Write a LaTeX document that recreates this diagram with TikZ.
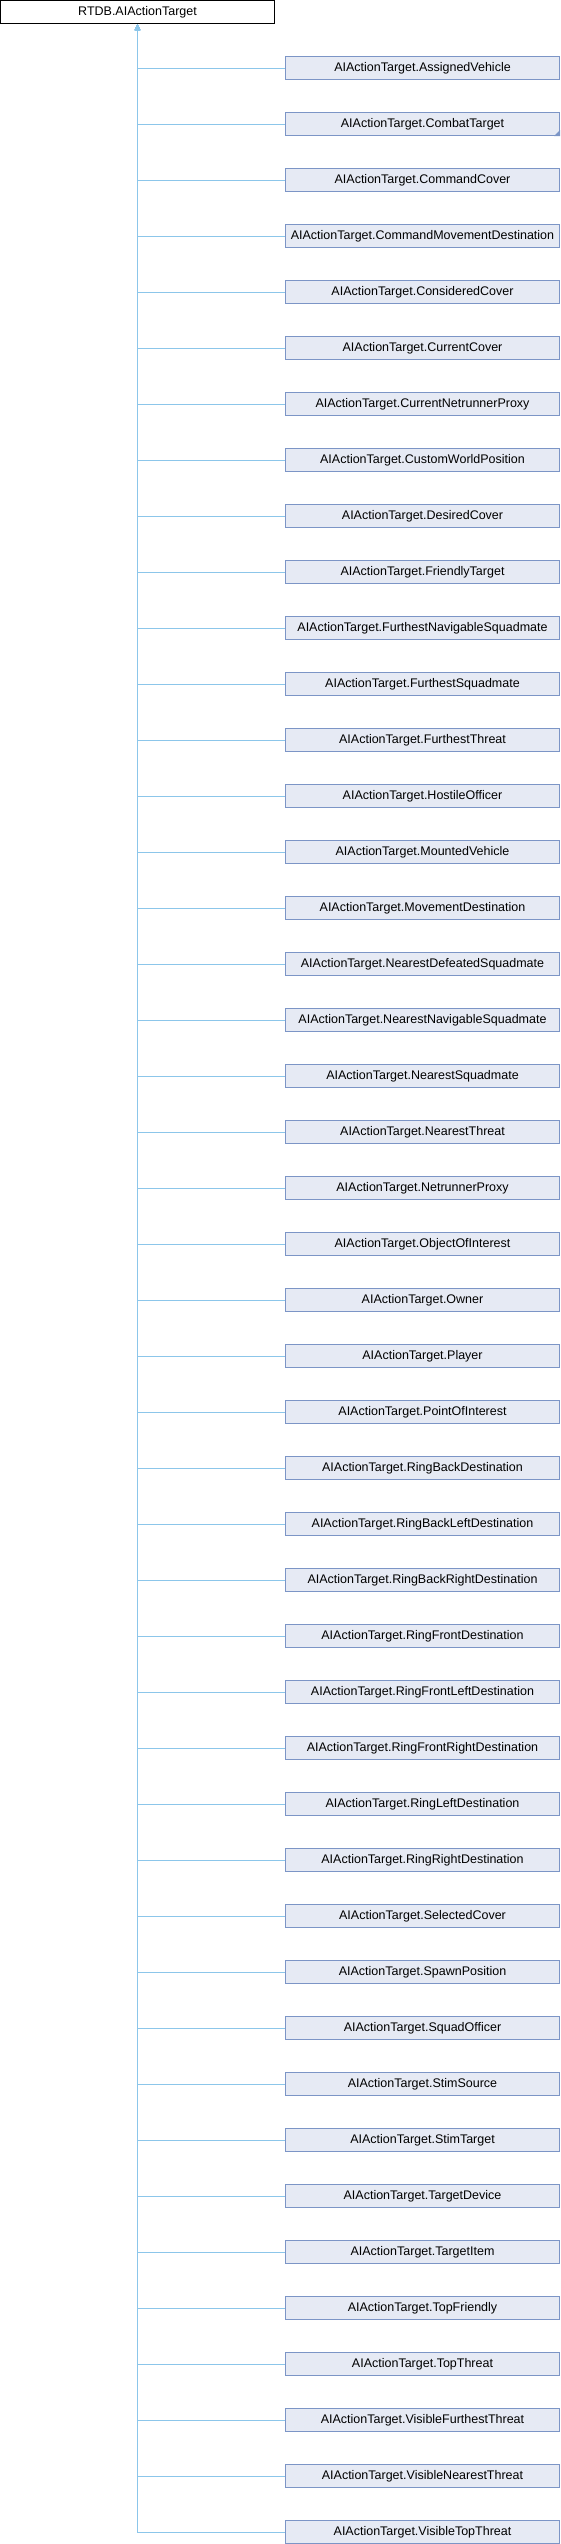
\documentclass[tikz,border=0pt]{standalone}
\usepackage{fontspec}
\setmainfont{Liberation Sans}
\usetikzlibrary{arrows.meta}
\definecolor{edgeblue}{HTML}{8CC6EA}
\definecolor{boxfill}{HTML}{E6EAF4}
\definecolor{boxdraw}{HTML}{7C95C6}
\tikzset{
  rootbox/.style={draw=black, fill=white, line width=1pt, minimum width=274pt, minimum height=23pt, inner sep=0pt, font=\fontsize{12.5}{14}\selectfont},
  childbox/.style={draw=boxdraw, fill=boxfill, line width=1pt, minimum width=274pt, minimum height=23pt, inner sep=0pt, font=\fontsize{12.5}{14}\selectfont},
  inherit/.style={draw=edgeblue, line width=1pt, {Triangle[width=5pt,length=6pt,fill=edgeblue]}-}
}
\begin{document}
\begin{tikzpicture}[x=1pt,y=-1pt]
\useasboundingbox (0,0) rectangle (560,2544);
\node[rootbox] (root) at (137.5,12) {RTDB.AIActionTarget};
\foreach \name [count=\i from 0] in {AssignedVehicle,CombatTarget,CommandCover,CommandMovementDestination,ConsideredCover,CurrentCover,CurrentNetrunnerProxy,CustomWorldPosition,DesiredCover,FriendlyTarget,FurthestNavigableSquadmate,FurthestSquadmate,FurthestThreat,HostileOfficer,MountedVehicle,MovementDestination,NearestDefeatedSquadmate,NearestNavigableSquadmate,NearestSquadmate,NearestThreat,NetrunnerProxy,ObjectOfInterest,Owner,Player,PointOfInterest,RingBackDestination,RingBackLeftDestination,RingBackRightDestination,RingFrontDestination,RingFrontLeftDestination,RingFrontRightDestination,RingLeftDestination,RingRightDestination,SelectedCover,SpawnPosition,SquadOfficer,StimSource,StimTarget,TargetDevice,TargetItem,TopFriendly,TopThreat,VisibleFurthestThreat,VisibleNearestThreat,VisibleTopThreat}{
  \node[childbox] (c\i) at (422.5,{68+56*\i}) {AIActionTarget.\name};
  \draw[inherit] (root.south) |- (c\i.west);
}
\fill[boxdraw] (c1.south east) -- ++(0,-6) -- ++(-6,6) -- cycle;
\end{tikzpicture}
\end{document}
